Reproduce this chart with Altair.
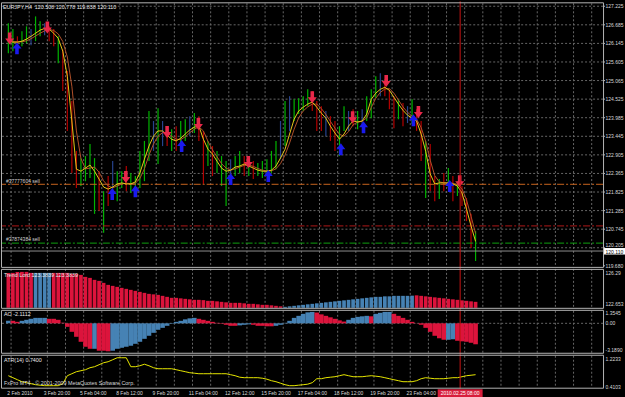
import altair as alt
import pandas as pd

# ---------------- data ----------------
bar_high = [126.73, 126.56, 126.35, 126.50, 126.64, 126.56, 126.93, 126.79, 126.73, 126.64,
            126.56, 126.35, 125.97, 125.34, 124.47, 123.02, 122.81, 122.87, 123.22, 122.81,
            122.43, 121.85, 122.29, 122.73, 122.43, 122.43, 122.58, 122.38, 122.29, 123.02,
            123.31, 124.18, 123.89, 124.26, 123.89, 123.74, 123.65, 123.74, 123.89, 123.94,
            124.03, 124.12, 124.03, 123.60, 123.31, 123.16, 123.02, 122.87, 122.73, 122.78,
            122.87, 123.02, 122.87, 122.78, 122.73, 122.67, 122.73, 122.78, 123.02, 123.31,
            123.89, 124.47, 124.61, 124.52, 124.55, 124.61, 124.81, 124.76, 124.47, 124.32,
            124.18, 124.03, 123.89, 123.74, 124.32, 124.18, 124.23, 124.18, 124.23, 124.61,
            124.81, 125.19, 125.28, 125.10, 124.81, 124.61, 124.52, 124.41, 124.32, 124.52,
            124.23, 123.89, 123.31, 123.22, 122.29, 122.20, 122.38, 122.52, 122.29, 122.14,
            122.00, 121.65, 121.19, 120.69]
bar_low = [125.86, 125.92, 125.97, 126.06, 126.15, 126.09, 126.21, 126.35, 126.38, 126.21,
           126.06, 125.57, 124.76, 123.60, 122.38, 121.94, 122.00, 122.14, 122.23, 121.19,
           121.27, 120.64, 121.42, 121.80, 121.56, 121.94, 121.85, 121.80, 121.85, 121.94,
           122.14, 122.73, 123.02, 122.64, 123.16, 123.16, 123.02, 123.02, 123.16, 123.31,
           123.45, 123.54, 123.31, 122.06, 122.58, 122.29, 122.38, 122.00, 121.42, 122.14,
           122.29, 122.38, 122.29, 122.29, 122.20, 122.29, 122.23, 122.29, 122.38, 122.49,
           122.78, 123.16, 123.60, 123.89, 124.09, 124.18, 124.32, 124.18, 123.60, 123.60,
           123.45, 123.31, 123.02, 122.87, 123.60, 123.60, 123.74, 123.65, 123.74, 123.89,
           123.97, 124.55, 124.61, 124.61, 124.23, 123.68, 123.94, 123.74, 123.83, 123.80,
           123.60, 122.73, 121.65, 121.85, 121.56, 121.62, 121.85, 121.94, 121.56, 121.71,
           121.42, 120.98, 120.20, 119.82]
bar_kind = list("ggrggbggbr" "rgrrrrgggg" "rgrbggrggg" "ggbgbrgrgg" "bgrrgrgggb"
                "ggrgrggggg" "bgbggggrrr" "brrggbrgbg" "ggbrrrgrbg" "rrgrrgrgrg" "rrrg")

ma_fast = [126.21, 126.18, 126.18, 126.21, 126.27, 126.35, 126.44, 126.53, 126.58, 126.56,
           126.44, 126.29, 125.92, 125.19, 123.89, 122.49, 122.43, 122.52, 122.61, 122.43,
           122.20, 121.97, 121.91, 121.97, 122.06, 122.09, 122.06, 122.06, 122.12, 122.38,
           122.78, 123.16, 123.45, 123.60, 123.60, 123.48, 123.36, 123.31, 123.39, 123.51,
           123.63, 123.71, 123.74, 123.36, 123.07, 122.93, 122.72, 122.52, 122.43, 122.46,
           122.55, 122.58, 122.64, 122.58, 122.52, 122.46, 122.43, 122.43, 122.46, 122.58,
           122.81, 123.07, 123.51, 123.94, 124.18, 124.29, 124.38, 124.44, 124.29, 124.12,
           123.97, 123.74, 123.54, 123.36, 123.51, 123.74, 123.89, 123.86, 123.89, 124.09,
           124.52, 124.70, 124.81, 124.87, 124.78, 124.58, 124.38, 124.20, 124.06, 123.97,
           123.89, 123.51, 123.01, 122.35, 122.06, 122.09, 122.09, 122.09, 122.06, 122.00,
           121.80, 121.33, 120.84, 120.39]
ma_slow = [126.20, 126.20, 126.19, 126.19, 126.22, 126.28, 126.36, 126.44, 126.51, 126.55,
           126.52, 126.42, 126.20, 125.75, 124.90, 123.60, 122.80, 122.50, 122.52, 122.55,
           122.40, 122.15, 122.00, 121.95, 122.00, 122.06, 122.08, 122.07, 122.08, 122.22,
           122.50, 122.90, 123.22, 123.45, 123.55, 123.55, 123.45, 123.36, 123.35, 123.43,
           123.55, 123.65, 123.72, 123.60, 123.30, 123.05, 122.85, 122.65, 122.52, 122.46,
           122.50, 122.55, 122.60, 122.61, 122.57, 122.51, 122.46, 122.44, 122.44, 122.50,
           122.65, 122.90, 123.25, 123.65, 123.98, 124.18, 124.30, 124.38, 124.38, 124.25,
           124.08, 123.88, 123.68, 123.50, 123.45, 123.58, 123.78, 123.86, 123.88, 123.98,
           124.28, 124.55, 124.72, 124.82, 124.83, 124.70, 124.50, 124.30, 124.14, 124.03,
           123.94, 123.70, 123.30, 122.75, 122.30, 122.12, 122.09, 122.09, 122.08, 122.04,
           121.92, 121.60, 121.12, 120.62]

sell_arrow_bar = [0.3, 8.6, 25.9, 35.0, 41.9, 52.9, 67.0, 75.9, 83.3, 90.4, 99.5]
sell_arrow_price = [126.29, 126.61, 122.26, 123.57, 123.80, 122.70, 124.58, 124.00, 125.05, 124.15, 122.14]
buy_arrow_bar = [1.9, 22.9, 28.0, 38.2, 49.0, 57.3, 73.3, 78.3, 89.3, 97.3]
buy_arrow_price = [126.00, 121.77, 121.85, 123.16, 122.20, 122.29, 123.07, 123.71, 123.91, 122.00]

order_line_price = [122.05, 120.84, 120.34]
order_line_kind = ["open", "stop", "take"]
bid_price = 120.110
vline_bar = 99.6

tl_val = [125.917, 125.917, 126.011, 126.011, 126.011, 125.917, 125.917, 125.917, 125.917, 125.917,
          125.917, 125.917, 125.917, 125.917, 125.824, 125.824, 125.731, 125.544, 125.451, 125.265,
          125.171, 124.985, 124.798, 124.705, 124.612, 124.518, 124.425, 124.332, 124.239, 124.145,
          124.052, 123.959, 123.912, 123.865, 123.772, 123.679, 123.586, 123.586, 123.539, 123.492,
          123.446, 123.399, 123.399, 123.371, 123.306, 123.306, 123.259, 123.213, 123.166, 123.119,
          123.119, 123.119, 123.073, 123.026, 123.026, 122.979, 122.933, 122.933, 122.886, 122.840,
          122.793, 122.746, 122.793, 122.840, 122.886, 122.933, 122.979, 123.026, 123.073, 123.119,
          123.166, 123.213, 123.259, 123.306, 123.352, 123.399, 123.446, 123.492, 123.539, 123.586,
          123.632, 123.679, 123.679, 123.726, 123.726, 123.772, 123.772, 123.772, 123.772, 123.790,
          123.819, 123.772, 123.726, 123.679, 123.632, 123.586, 123.539, 123.492, 123.446, 123.399,
          123.352, 123.306, 123.259, 123.213]
tl_kind = list("rrrrrr" "bbbb" "rrrrrrrrrrrrrrrrrrrrrrrrrrrrrrrrrrrrrrrrrrrrrrrrrrr"
               "bbbbbbbbbbbbbbbbbbbbbbbbbbbbb" "rrrrrrrrrrrrrr")

ao_val = [0.27, 0.27, 0.16, 0.27, 0.38, 0.49, 0.59, 0.59, 0.59, 0.49,
          0.49, 0.38, 0.05, -0.38, -0.92, -1.46, -2.00, -2.54, -2.76, -2.76,
          -2.97, -2.97, -3.03, -2.97, -2.76, -2.65, -2.54, -2.43, -2.22, -2.00,
          -1.68, -1.35, -1.03, -0.70, -0.49, -0.27, -0.05, 0.16, 0.27, 0.43,
          0.54, 0.59, 0.49, 0.38, 0.27, 0.16, 0.05, -0.05, -0.16, -0.27,
          -0.27, -0.22, -0.16, -0.11, -0.16, -0.27, -0.27, -0.32, -0.32, -0.27,
          -0.16, 0.05, 0.27, 0.59, 0.81, 1.03, 1.19, 1.24, 1.17, 0.97,
          0.81, 0.65, 0.49, 0.32, 0.19, 0.38, 0.59, 0.70, 0.76, 0.81,
          0.76, 1.03, 1.14, 1.24, 1.24, 1.03, 0.81, 0.59, 0.38, 0.16,
          0.02, -0.16, -0.49, -0.92, -1.35, -1.62, -1.78, -1.78, -1.73, -1.89,
          -1.95, -2.00, -2.11, -2.27]
ao_kind = list("brrbbbbbbr" "rrrrrrrrrb" "rrrbbbbbbb" "bbbbbbbbbb" "bbrrrrrrrr"
               "rbbbrrrrrb" "bbbbbbbbrr" "rrrrrbbbbb" "rbbbbrrrrr" "rrrrrrrbbr" "rrrr")

atr_val = [0.706, 0.657, 0.607, 0.558, 0.534, 0.509, 0.484, 0.472, 0.460, 0.460,
           0.460, 0.460, 0.509, 0.706, 0.755, 0.805, 0.829, 0.854, 0.903, 0.928,
           0.977, 1.026, 1.051, 1.100, 1.149, 1.149, 1.149, 0.928, 0.928, 0.952,
           0.989, 0.952, 0.903, 0.878, 0.878, 0.878, 0.878, 0.854, 0.829, 0.805,
           0.780, 0.768, 0.755, 0.755, 0.755, 0.755, 0.755, 0.755, 0.755, 0.731,
           0.706, 0.669, 0.657, 0.657, 0.657, 0.657, 0.644, 0.620, 0.583, 0.558,
           0.521, 0.484, 0.460, 0.460, 0.472, 0.484, 0.497, 0.534, 0.632, 0.632,
           0.657, 0.669, 0.681, 0.706, 0.731, 0.706, 0.681, 0.681, 0.681, 0.694,
           0.706, 0.694, 0.681, 0.657, 0.632, 0.607, 0.583, 0.558, 0.558, 0.558,
           0.583, 0.632, 0.657, 0.644, 0.632, 0.632, 0.632, 0.644, 0.657, 0.657,
           0.681, 0.706, 0.718, 0.731]

price_ticks = [127.225, 126.685, 126.145, 125.605, 125.065, 124.525, 123.985,
               123.445, 122.905, 122.365, 121.825, 121.285, 120.745, 120.205, 119.680]
price_tick_labels = ["127.225", "126.685", "126.145", "125.605", "125.065", "124.525", "123.985",
                     "123.445", "122.905", "122.365", "121.825", "121.285", "120.745", "120.205", "119.680"]
time_label_bars = [0, 8, 16, 24, 32, 40, 48, 56, 64, 72, 80, 88]
time_labels = ["2 Feb 2010", "3 Feb 20:00", "5 Feb 04:00", "8 Feb 12:00", "9 Feb 20:00",
               "11 Feb 04:00", "12 Feb 12:00", "15 Feb 20:00", "17 Feb 04:00",
               "18 Feb 12:00", "19 Feb 20:00", "23 Feb 04:00"]
grid_bars = [0.6 + 4 * k for k in range(33)]

# ---------------- styling ----------------
FONT = "Liberation Sans"
BAR_COL = {"g": "#00b400", "r": "#b40000", "b": "#27438c"}
HIST_COL = {"r": "#dc143c", "b": "#4682b4"}
GRID = "#666666"
FRAME = "#b4b4b4"
TXT = "#e8e8e8"

xs = alt.Scale(domain=[-0.52, 130.0], nice=False, zero=False)
X = alt.X("i:Q", scale=xs, axis=None)


def ysc(dom, rng):
    return alt.Scale(domain=dom, range=rng, nice=False, zero=False)


PRICE = ysc([119.649, 127.368], [266, 0])
TLS = ysc([122.653, 126.2906], [307, 268])
AOS = ysc([-3.189, 1.3545], [352, 310])
ATRS = ysc([0.4103, 1.2233], [387, 354])

n = len(bar_high)
idx = list(range(n))
bars_df = pd.DataFrame({"i": idx, "hi": bar_high, "lo": bar_low,
                        "c": [BAR_COL[k] for k in bar_kind]})
ma_df = pd.DataFrame({"i": idx, "f": ma_fast, "s": ma_slow})
tl_df = pd.DataFrame({"i": idx, "v": tl_val, "c": [HIST_COL[k] for k in tl_kind]})
ao_df = pd.DataFrame({"i": idx, "v": ao_val, "z": [0.0] * n, "c": [HIST_COL[k] for k in ao_kind]})
atr_df = pd.DataFrame({"i": idx, "v": atr_val})
sell_df = pd.DataFrame({"i": sell_arrow_bar, "p": sell_arrow_price})
buy_df = pd.DataFrame({"i": buy_arrow_bar, "p": buy_arrow_price})
grid_df = pd.DataFrame({"i": grid_bars})
ptick_df = pd.DataFrame({"p": price_ticks, "lab": price_tick_labels})
time_df = pd.DataFrame({"i": time_label_bars, "lab": time_labels})
vline_df = pd.DataFrame({"i": [vline_bar], "lab": ["2010.02.25 08:00"]})
bid_df = pd.DataFrame({"p": [bid_price], "lab": ["120.110"]})

DOWN = "M-0.3,-1L0.3,-1L0.3,0L0.75,0L0,1L-0.75,0L-0.3,0Z"
UP = "M-0.3,1L0.3,1L0.3,0L0.75,0L0,-1L-0.75,0L-0.3,0Z"

layers = []

# vertical grid per panel
for top, bot in [(2, 266), (268, 307), (310, 352), (355, 387)]:
    layers.append(alt.Chart(grid_df).mark_rule(color=GRID, strokeDash=[2, 2], strokeWidth=1)
                  .encode(x=X, y=alt.value(top), y2=alt.value(bot)))
# horizontal price grid
layers.append(alt.Chart(ptick_df[ptick_df.p > 120]).mark_rule(color=GRID, strokeDash=[2, 2], strokeWidth=1)
              .encode(y=alt.Y("p:Q", scale=PRICE, axis=None)))
# AO zero line
layers.append(alt.Chart(pd.DataFrame({"v": [0.0]})).mark_rule(color=GRID, strokeDash=[2, 2])
              .encode(y=alt.Y("v:Q", scale=AOS, axis=None)))

# price bars
layers.append(alt.Chart(bars_df).mark_rule(strokeWidth=1.2)
              .encode(x=X, y=alt.Y("hi:Q", scale=PRICE, axis=None), y2="lo:Q",
                      color=alt.Color("c:N", scale=None)))

# order lines
line_style = {"open": ("#c8641e", [7, 2, 2, 2]), "stop": ("#b01818", [7, 2, 2, 2]),
              "take": ("#10a010", [7, 2, 2, 2])}
for p, k in zip(order_line_price, order_line_kind):
    col, dash = line_style[k]
    layers.append(alt.Chart(pd.DataFrame({"p": [p]})).mark_rule(color=col, strokeDash=dash, strokeWidth=1)
                  .encode(y=alt.Y("p:Q", scale=PRICE, axis=None)))
layers.append(alt.Chart(bid_df).mark_rule(color="#8c8c8c", strokeWidth=1)
              .encode(y=alt.Y("p:Q", scale=PRICE, axis=None)))

# moving averages
layers.append(alt.Chart(ma_df).mark_line(color="#b0502a", strokeWidth=1)
              .encode(x=X, y=alt.Y("s:Q", scale=PRICE, axis=None)))
layers.append(alt.Chart(ma_df).mark_line(color="#e6c619", strokeWidth=1)
              .encode(x=X, y=alt.Y("f:Q", scale=PRICE, axis=None)))

# arrows
layers.append(alt.Chart(sell_df).mark_point(shape=DOWN, size=144, filled=True, color="#e8284a", opacity=1)
              .encode(x=X, y=alt.Y("p:Q", scale=PRICE, axis=None)))
layers.append(alt.Chart(buy_df).mark_point(shape=UP, size=144, filled=True, color="#1a1aee", opacity=1)
              .encode(x=X, y=alt.Y("p:Q", scale=PRICE, axis=None)))

# Trend Lord histogram
layers.append(alt.Chart(tl_df).mark_bar(size=3.7)
              .encode(x=X, y=alt.Y("v:Q", scale=TLS, axis=None, stack=None), y2=alt.value(307),
                      color=alt.Color("c:N", scale=None)))
# AO histogram
layers.append(alt.Chart(ao_df).mark_bar(size=4.62)
              .encode(x=X, y=alt.Y("v:Q", scale=AOS, axis=None, stack=None), y2="z:Q",
                      color=alt.Color("c:N", scale=None)))
# ATR line
layers.append(alt.Chart(atr_df).mark_line(color="#e6e600", strokeWidth=1)
              .encode(x=X, y=alt.Y("v:Q", scale=ATRS, axis=None)))

# vertical red line
layers.append(alt.Chart(vline_df).mark_rule(color="#c81414", strokeWidth=1)
              .encode(x=X, y=alt.value(0), y2=alt.value(388)))

# panel frames
for top, bot in [(1.5, 266.5), (268.5, 307.5), (309.5, 352.5), (354.5, 387.5)]:
    layers.append(alt.Chart(pd.DataFrame({"a": [0]})).mark_rect(filled=False, stroke=FRAME, strokeWidth=1)
                  .encode(x=alt.value(0.5), x2=alt.value(603.5), y=alt.value(top), y2=alt.value(bot)))


def label(text, x, y, color=TXT, size=5.4, align="left"):
    return (alt.Chart(pd.DataFrame({"t": [text]}))
            .mark_text(font=FONT, fontSize=size, color=color, align=align, baseline="middle")
            .encode(x=alt.value(x), y=alt.value(y), text="t:N"))


layers.append(label("EURJPY,H4\u00a0\u00a0120.508\u00a0120.778\u00a0119.838\u00a0120.110", 2, 6))
layers.append(label("#37777604 sell", 5, 180, "#d0d0d0", 5))
layers.append(label("#37874384 sell", 5, 238, "#d0d0d0", 5))
layers.append(label("Trend Lord 123.3839 123.3839", 3, 274))
layers.append(label("AO -2.1112", 3, 313.5))
layers.append(label("ATR(14) 0.7400", 3, 359))
layers.append(label("FxPro MT4 - \u00a9 2001-2009 MetaQuotes Software Corp.", 3, 382.5, "#d8d8d8"))

# right price scale
layers.append(alt.Chart(ptick_df).mark_rule(color=FRAME)
              .encode(x=alt.value(603), x2=alt.value(605), y=alt.Y("p:Q", scale=PRICE, axis=None)))
layers.append(alt.Chart(ptick_df[ptick_df.p != 120.205]).mark_text(font=FONT, fontSize=5, color="#d8d8d8", align="left",
                                            baseline="middle", limit=19, ellipsis=" ")
              .encode(x=alt.value(605.5), y=alt.Y("p:Q", scale=PRICE, axis=None), text="lab:N"))
layers.append(alt.Chart(ptick_df[ptick_df.p == 120.205]).mark_text(font=FONT, fontSize=5, color="#d8d8d8", align="left",
                                            baseline="bottom", limit=19, ellipsis=" ")
              .encode(x=alt.value(605.5), y=alt.Y("p:Q", scale=PRICE, axis=None), text="lab:N"))
# bid price box
layers.append(alt.Chart(bid_df).mark_rect(color="#ffffff", yOffset=-3, y2Offset=3.5)
              .encode(x=alt.value(604), x2=alt.value(625), y=alt.Y("p:Q", scale=PRICE, axis=None), y2="p:Q"))
layers.append(alt.Chart(bid_df).mark_text(font=FONT, fontSize=5, color="#000000", align="left", baseline="middle", dy=0.5)
              .encode(x=alt.value(605.5), y=alt.Y("p:Q", scale=PRICE, axis=None), text="lab:N"))

# sub-window scale labels
sub_labels = [
    (TLS, 126.2906, "126.2906", 4), (TLS, 122.653, "122.653", -4),
    (AOS, 1.3545, "1.3545", 2.5), (AOS, 0.0, "0.00", 0), (AOS, -3.189, "-3.1890", -3),
    (ATRS, 1.2233, "1.2233", 4), (ATRS, 0.4103, "0.4103", -1),
]
for sc, v, lab, dy in sub_labels:
    layers.append(alt.Chart(pd.DataFrame({"v": [v], "lab": [lab]}))
                  .mark_text(font=FONT, fontSize=5, color="#d8d8d8", align="left", baseline="middle",
                             dy=dy, limit=19, ellipsis=" ")
                  .encode(x=alt.value(605.5), y=alt.Y("v:Q", scale=sc, axis=None), text="lab:N"))

# time axis
layers.append(alt.Chart(time_df).mark_text(font=FONT, fontSize=5, color="#d8d8d8", align="left",
                                           baseline="middle", dx=-1)
              .encode(x=X, y=alt.value(392.5), text="lab:N"))
layers.append(alt.Chart(vline_df).mark_rect(color="#d81e3c", xOffset=-22.5, x2Offset=22.5)
              .encode(x=X, x2="i:Q", y=alt.value(388.5), y2=alt.value(397)))
layers.append(alt.Chart(vline_df).mark_text(font=FONT, fontSize=5, color="#ffffff", align="center",
                                            baseline="middle")
              .encode(x=X, y=alt.value(392.5), text="lab:N"))

chart = (alt.layer(*layers)
         .resolve_scale(y="independent")
         .properties(width=603, height=388, padding=0, background="#000000")
         .configure_view(stroke="transparent"))

chart.save("out.html", embed_options={"renderer": "svg", "actions": False})
